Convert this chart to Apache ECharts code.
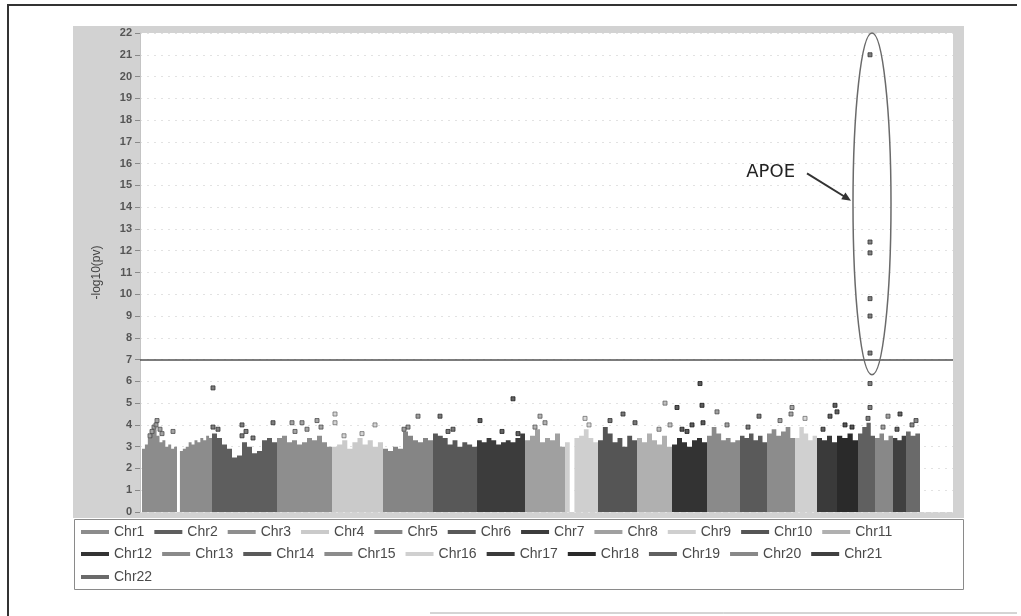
<!DOCTYPE html>
<html><head><meta charset="utf-8">
<script src="https://cdn.jsdelivr.net/npm/echarts@6/dist/echarts.min.js"></script>
<style>html,body{margin:0;padding:0;background:#fff}#c{width:1021px;height:616px}</style>
</head><body><div id="c"></div>
<script>
// ---- data ----
const chromNames = ['Chr1','Chr2','Chr3','Chr4','Chr5','Chr6','Chr7','Chr8','Chr9','Chr10','Chr11',
  'Chr12','Chr13','Chr14','Chr15','Chr16','Chr17','Chr18','Chr19','Chr20','Chr21','Chr22'];
// relative genomic span of each chromosome (plot units)
const chromWidths = [70,65,55,51,50,44,48,40,33,39,35,35,33,27,28,22,20,21,17,18,13,14];
const chromColors = ['#8c8c8c','#5e5e5e','#8e8e8e','#cacaca','#858585','#585858','#3c3c3c','#a0a0a0',
  '#cfcfcf','#555555','#b0b0b0','#333333','#8a8a8a','#5a5a5a','#8c8c8c','#d0d0d0','#3a3a3a','#2a2a2a',
  '#606060','#888888','#404040','#6a6a6a'];
// dense SNP "skyline": top of the packed -log10(p) cloud, equal segments along each chromosome (0 = gap)
const skyline = [
  [2.9,3.1,3.4,3.6,3.8,3.5,3.2,3.3,3.0,3.1,2.9,3.0,0,2.8,2.9,3.0,3.2,3.1,3.3,3.2,3.4,3.3,3.5,3.4],
  [3.6,3.4,3.1,2.9,2.5,2.6,3.2,3.0,2.7,2.8,3.3,3.4,3.2],
  [3.4,3.5,3.2,3.3,3.1,3.2,3.4,3.3,3.5,3.2,3.0],
  [3.0,3.1,3.3,2.9,3.2,3.4,3.1,3.3,3.0,3.2],
  [2.9,2.8,3.0,2.9,3.7,3.5,3.3,3.2,3.4,3.3],
  [3.6,3.5,3.4,3.1,3.3,3.0,3.2,3.1,3.0],
  [3.3,3.2,3.4,3.3,3.1,3.2,3.3,3.2,3.4,3.6],
  [3.3,3.5,3.8,3.2,3.4,3.3,3.6,3.0],
  [3.2,0,3.4,3.5,3.8,3.4,3.2],
  [3.3,3.9,3.6,3.2,3.4,3.0,3.5,3.3],
  [3.4,3.2,3.6,3.3,3.1,3.5,3.0],
  [3.1,3.4,3.2,3.0,3.3,3.4,3.2],
  [3.5,3.9,3.6,3.3,3.4,3.2,3.3],
  [3.5,3.4,3.6,3.3,3.5,3.2],
  [3.6,3.8,3.5,3.7,3.9,3.4],
  [3.4,3.9,3.6,3.3,3.5],
  [3.4,3.3,3.5,3.2],
  [3.5,3.4,3.6,3.3],
  [3.6,3.9,4.1,3.5],
  [3.4,3.6,3.3,3.5],
  [3.4,3.3,3.5],
  [3.7,3.5,3.6]
];
// individual SNPs standing out above the cloud: [position within chromosome, -log10(p)]
const hits = [
  [[15,4.2],[12,3.9],[10,3.7],[18,3.8],[31,3.7],[8,3.5],[14,4.0],[20,3.6]],
  [[1,5.7],[1,3.9],[30,4.0],[30,3.5],[41,3.4],[61,4.1],[6,3.8],[34,3.7]],
  [[15,4.1],[25,4.1],[40,4.2],[30,3.8],[18,3.7],[44,3.9]],
  [[3,4.5],[3,4.1],[43,4.0],[30,3.6],[12,3.5]],
  [[35,4.4],[25,3.9],[21,3.8]],
  [[7,4.4],[20,3.8],[15,3.7]],
  [[3,4.2],[36,5.2],[41,3.6],[25,3.7]],
  [[15,4.4],[20,4.1],[10,3.9]],
  [[20,4.3],[24,4.0]],
  [[37,4.1],[25,4.5],[12,4.2]],
  [[28,5.0],[33,4.0],[22,3.8]],
  [[5,4.8],[28,5.9],[30,4.9],[20,4.0],[31,4.1],[10,3.8],[15,3.7]],
  [[10,4.6],[20,4.0]],
  [[19,4.4],[8,3.9]],
  [[13,4.2],[25,4.8],[24,4.5]],
  [[10,4.3]],
  [[13,4.4],[18,4.9],[20,4.6],[6,3.8]],
  [[15,3.9],[8,4.0]],
  [[12,21.0],[12,12.4],[12,11.9],[12,9.8],[12,9.0],[12,7.3],[12,5.9],[12,4.8],[10,4.3]],
  [[13,4.4],[8,3.9]],
  [[7,4.5],[4,3.8]],
  [[6,4.0],[10,4.2]]
];
const threshold = 7;
const yMin = 0, yMax = 22, yStep = 1;
const apoeLabel = 'APOE';
const apoeChrom = 18, apoePos = 12, apoeTop = 22, apoeBottom = 6.3;

// ---- build ----
const X0 = 2;
const starts = []; let acc = X0;
chromWidths.forEach(w => { starts.push(acc); acc += w; });

function darken(hex, f) {
  const v = parseInt(hex.slice(1,3),16);
  const d = Math.round(v * f).toString(16).padStart(2,'0');
  return '#' + d + d + d;
}

const series = [];
chromNames.forEach((name, i) => {
  const h = skyline[i], n = h.length, w = chromWidths[i];
  const pts = h.map((v, k) => [starts[i] + k * w / n, v]);
  pts.push([starts[i] + w, h[n - 1]]);
  const s = {
    type: 'line', name, data: pts, step: 'end', symbol: 'none', silent: true, z: 2,
    lineStyle: { width: 0, color: chromColors[i] },
    itemStyle: { color: chromColors[i] },
    areaStyle: { color: chromColors[i], opacity: 1 }
  };
  if (i === 0) {
    s.markLine = {
      silent: true, symbol: 'none', label: { show: false },
      lineStyle: { color: '#505050', width: 1.5, type: 'solid' },
      data: [{ yAxis: threshold }]
    };
  }
  series.push(s);
  series.push({
    type: 'scatter', name, z: 3, symbol: 'rect', symbolSize: 4,
    data: hits[i].map(p => [starts[i] + p[0], p[1]]),
    itemStyle: { color: chromColors[i], borderColor: darken(chromColors[i], 0.55), borderWidth: 1 }
  });
});

const richStyles = {
  s: { width: 35, fontSize: 14, fontFamily: 'Liberation Sans', color: '#4a4a4a' },
  d: { width: 45, fontSize: 14, fontFamily: 'Liberation Sans', color: '#4a4a4a' }
};
function legendCfg(names, top) {
  return {
    data: names, left: 81, top, orient: 'horizontal', icon: 'rect',
    itemWidth: 28, itemHeight: 4, itemGap: 10, padding: 0, selectedMode: false,
    textStyle: { fontFamily: 'Liberation Sans', fontSize: 14, color: '#4a4a4a', rich: richStyles },
    formatter: nm => (nm.length > 4 ? '{d|' : '{s|') + nm + '}'
  };
}

const chart = echarts.init(document.getElementById('c'), null, { renderer: 'canvas' });
chart.setOption({
  animation: false,
  backgroundColor: '#fff',
  grid: { left: 140, top: 33, right: 68, bottom: 104, show: true, backgroundColor: '#fff', borderWidth: 0 },
  xAxis: { type: 'value', min: 0, max: 813, show: false },
  yAxis: {
    type: 'value', min: yMin, max: yMax, interval: yStep,
    name: '-log10(pv)', nameLocation: 'middle', nameGap: 37, nameRotate: 90,
    nameTextStyle: { fontFamily: 'Liberation Sans', fontSize: 12, color: '#444' },
    axisLine: { show: true, lineStyle: { color: '#c4c4c4' } },
    axisTick: { show: true, length: 5, lineStyle: { color: '#888' } },
    axisLabel: { fontFamily: 'Liberation Sans', fontSize: 11, fontWeight: 'bold', color: '#555', margin: 8 },
    splitLine: { show: true, lineStyle: { color: '#e2e2e2', type: [2, 5], width: 1 } }
  },
  legend: [
    legendCfg(chromNames.slice(0, 11), 525),
    legendCfg(chromNames.slice(11, 21), 547),
    legendCfg(chromNames.slice(21), 570)
  ],
  graphic: [
    { id: 'bg', type: 'rect', z: -1, shape: { x: 73, y: 26, width: 891, height: 492 }, style: { fill: '#d2d2d2' } },
    { id: 'lgbox', type: 'rect', z: 1, shape: { x: 74.5, y: 519.5, width: 889, height: 70 }, style: { fill: '#fff', stroke: '#8a8a8a', lineWidth: 1 } },
    { id: 'ftop', type: 'line', z: 1, shape: { x1: 7, y1: 5, x2: 1017, y2: 5 }, style: { stroke: '#333', lineWidth: 2 } },
    { id: 'fleft', type: 'line', z: 1, shape: { x1: 8, y1: 5, x2: 8, y2: 616 }, style: { stroke: '#333', lineWidth: 2 } },
    { id: 'fbot', type: 'line', z: 1, shape: { x1: 430, y1: 613, x2: 1017, y2: 613 }, style: { stroke: '#aaa', lineWidth: 1 } }
  ],
  series
});

// annotation anchored to data coordinates
const P = (x, y) => chart.convertToPixel({ gridIndex: 0 }, [x, y]);
const ax = starts[apoeChrom] + apoePos;
const pTop = P(ax + 2, apoeTop), pBot = P(ax + 2, apoeBottom);
const pHalf = P(ax + 21, apoeTop);
const a1 = P(ax - 63, 15.55), a2 = P(ax - 19, 14.3);
const tx = P(ax - 75, 15.6);
const ang = Math.atan2(a2[1] - a1[1], a2[0] - a1[0]);
const hl = 9, hw = 4;
const head = [
  [a2[0], a2[1]],
  [a2[0] - hl * Math.cos(ang) + hw * Math.sin(ang), a2[1] - hl * Math.sin(ang) - hw * Math.cos(ang)],
  [a2[0] - hl * Math.cos(ang) - hw * Math.sin(ang), a2[1] - hl * Math.sin(ang) + hw * Math.cos(ang)]
];
chart.setOption({
  graphic: [
    { id: 'ell', type: 'ellipse', z: 10, silent: true,
      shape: { cx: pTop[0], cy: (pTop[1] + pBot[1]) / 2, rx: pHalf[0] - pTop[0], ry: (pBot[1] - pTop[1]) / 2 },
      style: { fill: 'none', stroke: '#6a6a6a', lineWidth: 1.5 } },
    { id: 'arr', type: 'line', z: 10, silent: true,
      shape: { x1: a1[0], y1: a1[1], x2: a2[0] - 5 * Math.cos(ang), y2: a2[1] - 5 * Math.sin(ang) },
      style: { stroke: '#333', lineWidth: 2 } },
    { id: 'arrh', type: 'polygon', z: 10, silent: true, shape: { points: head }, style: { fill: '#333' } },
    { id: 'lbl', type: 'text', z: 10, silent: true, x: tx[0], y: tx[1],
      style: { text: apoeLabel, fontFamily: 'DejaVu Sans', fontSize: 18, fill: '#222', align: 'right', verticalAlign: 'middle' } }
  ]
});
</script></body></html>
